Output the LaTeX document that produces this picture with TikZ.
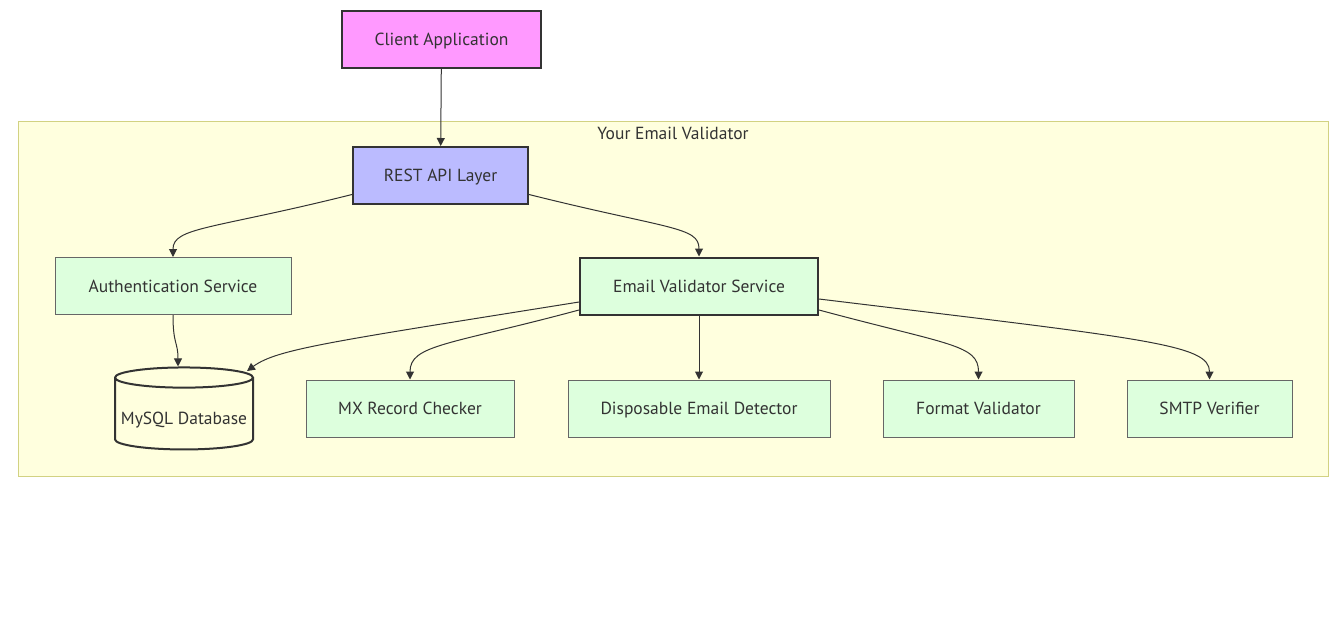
\documentclass[tikz,border=0pt]{standalone}
\usepackage{fontspec}
\setmainfont{PT Sans}
\usepackage{tikz}
\usetikzlibrary{calc, shapes.geometric, arrows.meta}
\definecolor{InkGrey}{RGB}{51, 51, 51}
\definecolor{EdgeGrey}{RGB}{102, 102, 102}
\definecolor{OrchidPink}{RGB}{255, 153, 255}
\definecolor{PeriwinkleBlue}{RGB}{187, 187, 255}
\definecolor{MintGreen}{RGB}{221, 255, 221}
\definecolor{CreamYellow}{RGB}{255, 255, 222}
\definecolor{OliveLine}{RGB}{210, 210, 130}

\tikzset{
    box/.style={rectangle, minimum height=57pt, inner sep=0pt, text height=14.5pt, text depth=2pt,
        font=\fontsize{17.5}{21}\selectfont, text=InkGrey},
    corebox/.style={box, draw=InkGrey, line width=2pt},
    svcbox/.style={box, fill=MintGreen, draw=EdgeGrey, line width=1pt},
    flow/.style={draw=InkGrey, line width=1pt, -{Triangle[length=8pt, width=8pt]}}
}

\begin{document}
\begin{tikzpicture}[x=1pt, y=-1pt]
    \useasboundingbox[fill=white] (0,0) rectangle (1343,624);

    % Cluster
    \draw[fill=CreamYellow, draw=OliveLine, line width=1pt] (18,121) rectangle (1328,476);
    \node[font=\fontsize{17.5}{21}\selectfont, text=InkGrey] (cluster) at (673,133) {Your Email Validator};

    % Client and API
    \node[corebox, fill=OrchidPink, minimum width=199pt] (client) at (441.5,39) {Client Application};
    \node[corebox, fill=PeriwinkleBlue, minimum width=175pt] (rest) at (440.5,175.5) {REST API Layer};

    % Services
    \node[svcbox, minimum width=236pt] (auth) at (173,286) {Authentication Service};
    \node[svcbox, draw=InkGrey, line width=2pt, minimum width=238pt] (email) at (699,286) {Email Validator Service};

    % Database
    \node[cylinder, shape border rotate=90, aspect=0.16, draw=InkGrey, line width=2pt, fill=CreamYellow,
          minimum width=138pt, minimum height=82pt, inner sep=0pt,
          font=\fontsize{17.5}{21}\selectfont, text=InkGrey] (db) at (184,414) {\raisebox{-25pt}{MySQL Database}};

    % Checkers
    \node[svcbox, minimum width=208pt] (mx) at (410,408.5) {MX Record Checker};
    \node[svcbox, minimum width=262pt] (disposable) at (699,408.5) {Disposable Email Detector};
    \node[svcbox, minimum width=191pt] (format) at (978.5,408.5) {Format Validator};
    \node[svcbox, minimum width=165pt] (smtp) at (1209.5,408.5) {SMTP Verifier};

    % Connectors
    \draw[flow] (client) -- (rest);
    \draw[flow] ($(rest.west)+(0,19)$) .. controls +(-140,35) and +(0,-30) .. (auth.north);
    \draw[flow] ($(rest.east)+(0,19)$) .. controls +(140,35) and +(0,-30) .. (email.north);
    \draw[flow] (auth.south) .. controls +(0,30) and +(0,-25) .. ([xshift=-6pt]db.north);
    \draw[flow] ($(email.west)+(0,16)$) .. controls +(-250,40) and +(30,-22) .. ($(db.center)+(63,-43)$);
    \draw[flow] ($(email.west)+(0,24)$) .. controls +(-130,35) and +(0,-35) .. (mx.north);
    \draw[flow] (email) -- (disposable);
    \draw[flow] ($(email.east)+(0,24)$) .. controls +(130,35) and +(0,-35) .. (format.north);
    \draw[flow] ($(email.east)+(0,13)$) .. controls +(330,40) and +(0,-35) .. (smtp.north);
\end{tikzpicture}
\end{document}
